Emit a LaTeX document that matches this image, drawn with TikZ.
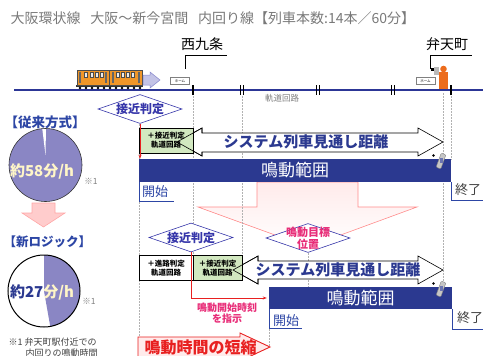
\documentclass[tikz,border=0pt]{standalone}
\usepackage{fontspec}
\setmainfont{Noto Sans CJK JP}
\usetikzlibrary{arrows.meta,shapes.geometric}

\definecolor{trackblue}{RGB}{44,54,150}
\definecolor{bandblue}{RGB}{43,57,144}
\definecolor{diablue}{RGB}{55,55,170}
\definecolor{headblue}{RGB}{45,70,165}
\definecolor{lav}{RGB}{138,134,196}
\definecolor{cream}{RGB}{255,246,200}
\definecolor{magtext}{RGB}{232,45,120}
\definecolor{redline}{RGB}{232,32,32}
\definecolor{okgreen}{RGB}{210,232,192}
\definecolor{trainorange}{RGB}{240,150,40}
\definecolor{manorange}{RGB}{236,108,28}

\newcommand{\fsz}[1]{\fontsize{#1}{#1}\selectfont}

\begin{document}
\begin{tikzpicture}[x=1pt, y=-1pt,
    guide/.style={draw=gray!60, line width=0.4pt, dash pattern=on 1.5pt off 1.5pt},
    judge/.style={diamond, draw=diablue, fill=white, line width=0.6pt, inner sep=0pt,
      minimum width=84pt, minimum height=29pt},
    jtext/.style={text=diablue, font=\bfseries\fsz{12}},
    band/.style={fill=bandblue, text=white, inner sep=0pt, font=\fsz{17}},
    circuit/.style={draw=black, line width=0.6pt, inner sep=0pt, align=center,
      font=\bfseries\fontsize{7.5}{9}\selectfont, minimum height=25pt},
    sight/.style={draw=black, line width=0.6pt},
    redarrow/.style={draw=redline, line width=0.8pt, -{Stealth[length=4pt]}},
    bracket/.style={draw=headblue, line width=0.6pt},
    phone/.style={draw=gray, fill=gray!45, rounded corners=1pt, inner sep=0pt,
      minimum width=5pt, minimum height=15pt}]
  \useasboundingbox (0,0) rectangle (483,356);

  \node[anchor=west, text=gray!95!black, font=\fsz{14}] (title) at (7,18)
    {大阪環状線\hspace{0.7em}大阪～新今宮間\hspace{0.7em}内回り線【列車本数:14本／60分】};

  % big pink arrow between the two cases
  \shade[top color=red!8, middle color=red!22, bottom color=white, draw=red!45, line width=0.6pt]
    (257,182) -- (358,182) -- (358,207) -- (417,207) -- (308,247) -- (198,207) -- (257,207) -- cycle;

  % guide lines
  \draw[guide] (139,100) -- (139,356);
  \draw[guide] (193,96) -- (193,255);
  \draw[guide] (242,96) -- (242,255);
  \draw[guide] (443,93) -- (443,287);
  \draw[guide] (451,93) -- (451,160);
  \draw[guide] (308,250) -- (308,287);
  \draw[guide] (269,326) -- (269,346);

  % track and joints
  \draw[trackblue, line width=1.6pt] (14,90) -- (483,90);
  \draw[line width=1.8pt] (193,85) -- (193,95) (451,85) -- (451,95);
  \foreach \x in {242,318,393}
    \draw[line width=0.8pt] (\x-1.2,85) -- (\x-1.2,95) (\x+1.2,85) -- (\x+1.2,95);
  \node[text=gray, font=\fsz{8.5}] (circ) at (282,98) {軌道回路};

  % stations
  \node[font=\fsz{14}] (nishi) at (202,44) {西九条};
  \draw (nishi.south east) ++(0,1) -| ++(-41,14);
  \node[font=\fsz{14}] (benten) at (447,44) {弁天町};
  \draw (benten.south east) ++(0,1) -| ++(-41,14);
  \node[draw=gray, line width=0.7pt, fill=white, inner sep=0pt, minimum width=19pt, minimum height=7pt,
    font=\fsz{3.5}] (home1) at (180,81) {ホーム};
  \node[draw=gray, line width=0.7pt, fill=white, inner sep=0pt, minimum width=19pt, minimum height=7pt,
    font=\fsz{3.5}] (home2) at (425.5,81) {ホーム};

  % train
  \fill[black!80] (76,85) rectangle (143,87);
  \foreach \x in {80,86,...,140}
    \fill (\x,88) circle (1.4pt);
  \draw[black!70, fill=trainorange, line width=0.6pt] (77,70) rectangle (142,85);
  \draw[black!70, line width=0.6pt] (109.5,70) -- (109.5,85);
  \foreach \x in {84,90,95,100,116,121,126,131}
    \draw[black!70, fill=gray!15, line width=0.4pt] (\x,72.5) rectangle ++(3.6,5);
  \foreach \x in {79,105,112,138}
    \fill[black!60] (\x,72) rectangle ++(2,11);
  \draw[diablue!60, fill=diablue!30, line width=0.5pt] (143,75) -- (150,75) -- (150,72) -- (160,80)
    -- (150,88) -- (150,85) -- (143,85) -- cycle;

  % person on the platform
  \fill[manorange] (443.5,69) circle (3.3pt);
  \fill[manorange] (439,72) rectangle (448,89);
  \fill[gray!55] (434,67) rectangle (438.5,75);
  \fill (431,67.5) rectangle (434,71);

  % ---- old logic ----
  \node[text=headblue, font=\bfseries\fsz{13.5}, anchor=west] (oldhead) at (1,122) {【従来方式】};
  \coordinate (pie1) at (45.5,165);
  \fill[lav] (pie1) circle (36.5pt);
  \fill[white] (pie1) ++(0,-10) -- ++(89:26pt) arc (89:97:26pt) -- cycle;
  \draw[black!80, line width=0.6pt] (pie1) circle (36.5pt);
  \node[text=cream, font=\bfseries\fsz{15}] (oldrate) at (42,171) {約58分/h};
  \node[text=gray, font=\fsz{8.5}] (oldnote) at (91,181) {※1};

  \draw[red!35, fill=red!20, line width=0.6pt] (32,203) -- (55,203) -- (55,213) -- (65,213)
    -- (43.5,227) -- (22,213) -- (32,213) -- cycle;

  \node[judge, label={[jtext]center:接近判定}] (near1) at (140,109) {};
  \draw[sight, fill=white] (177,142) -- (202,128) -- (202,133) -- (418,133) -- (418,128) -- (443,142)
    -- (418,156) -- (418,152) -- (202,152) -- (202,156) -- cycle;
  \node[circuit, fill=okgreen, minimum width=54pt] (ok1) at (166,140.5) {＋接近判定\\軌道回路};
  \draw[sight] (202,133) -- (202,128) -- (177,142) -- (202,156) -- (202,152);
  \node[text=bandblue, font=\bfseries\fsz{15}] (dist1) at (306,142) {システム列車見通し距離};
  \node[band, minimum width=312pt, minimum height=23pt] (ring1) at (295,170.5) {鳴動範囲};
  \draw[redarrow] (near1.south) -- (near1.south |- ring1.north);
  \node[phone, rotate=-20] (tel1) at (441,161) {};
  \fill[bandblue!70] (tel1.center) ++(-0.6,-3) rectangle ++(2.2,5);
  \fill (433.5,155.5) circle (1.3pt);

  \node[text=headblue, font=\fsz{13}] (st1) at (155,192) {開始};
  \draw[bracket] (ring1.south west) |- (174,201);
  \node[text=black!75, font=\fsz{13}] (end1) at (468,190) {終了};
  \draw[bracket] (ring1.south east) |- (483,200);

  % ---- new logic ----
  \node[text=headblue, font=\bfseries\fsz{12.5}, anchor=west] (newhead) at (0,242) {【新ロジック】};
  \coordinate (pie2) at (44,291);
  \fill[white] (pie2) circle (36pt);
  \fill[lav] (pie2) -- ++(90:36pt) arc (90:-80:36pt) -- cycle;
  \draw[black, line width=1pt] (pie2) circle (36pt);
  \node[font=\bfseries\fsz{15}, text=cream] (newrate) at (42,292) {\textcolor{bandblue}{約27}分/h};
  \node[text=gray, font=\fsz{8.5}] (newnote) at (89,301) {※1};

  \node[judge] (aim) at (308,238) {};
  \node[text=magtext, font=\bfseries\fontsize{11}{12}\selectfont, align=center] (aimtxt) at (aim) {鳴動目標\\位置};

  \node[judge, label={[jtext]center:接近判定}] (near2) at (191,237.5) {};
  \draw[sight, fill=white] (233,270) -- (258,256) -- (258,261) -- (418,261) -- (418,256) -- (443,270)
    -- (418,284) -- (418,279) -- (258,279) -- (258,284) -- cycle;
  \node[circuit, fill=white, minimum width=54pt] (route) at (166,268) {＋進路判定\\軌道回路};
  \node[circuit, fill=okgreen, minimum width=49pt] (ok2) at (217.5,268) {＋接近判定\\軌道回路};
  \draw[sight] (258,261) -- (258,256) -- (233,270) -- (258,284) -- (258,279);
  \node[text=bandblue, font=\bfseries\fsz{15}] (dist2) at (338,270) {システム列車見通し距離};
  \node[band, minimum width=183pt, minimum height=22pt] (ring2) at (360.5,298) {鳴動範囲};
  \draw[redarrow] (near2.south) |- ([xshift=-2pt]ring2.west);
  \node[text=magtext, font=\bfseries\fontsize{10}{11}\selectfont, align=center] (order) at (227,313)
    {鳴動開始時刻\\を指示};
  \node[phone, rotate=-20] (tel2) at (441,289) {};
  \fill[bandblue!70] (tel2.center) ++(-0.6,-3) rectangle ++(2.2,5);
  \fill (433.5,283.5) circle (1.3pt);

  \node[text=headblue, font=\fsz{13}] (st2) at (286,321) {開始};
  \draw[bracket] (ring2.south west) |- (302,328);
  \node[text=black!75, font=\fsz{13}] (end2) at (470,318) {終了};
  \draw[bracket] (ring2.south east) |- (483,329);

  % shorter ringing
  \draw[redline, fill=red!8, line width=0.9pt] (138,337) -- (240,337) -- (240,333) -- (270,347)
    -- (240,361) -- (240,357) -- (138,357) -- cycle;
  \node[text=redline, font=\bfseries\fsz{16}, anchor=west] (short) at (141,347.5) {鳴動時間の短縮};

  \node[text=black!75, font=\fontsize{9}{11}\selectfont, align=left, anchor=north west] (foot) at (5,334)
    {※1 弁天町駅付近での\\\hspace{1.9em}内回りの鳴動時間};
\end{tikzpicture}
\end{document}
